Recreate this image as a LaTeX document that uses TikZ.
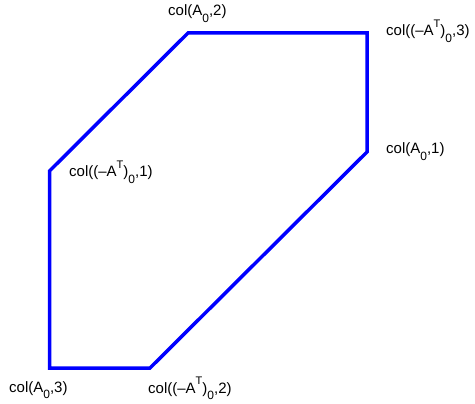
\documentclass[tikz,border=0pt]{standalone}
\usepackage{fontspec}
\setmainfont{Liberation Sans}
\newcommand{\lsub}[1]{\raisebox{-6.5pt}{\fontsize{12}{12}\selectfont #1}}
\newcommand{\lsup}[1]{\raisebox{8.5pt}{\fontsize{11}{12}\selectfont #1}}
\tikzset{
  edge/.style={draw=blue, line width=3.5pt, line join=miter},
  lbl/.style={anchor=base west, inner sep=0pt, font=\fontsize{15}{17}\selectfont}
}
\begin{document}
\begin{tikzpicture}[x=1pt,y=-1pt]
\useasboundingbox (0,0) rectangle (475,404);
\coordinate (p1) at (49.5,171);
\coordinate (p2) at (188,33);
\coordinate (p3) at (367,33);
\coordinate (p4) at (367,152);
\coordinate (p5) at (150,368);
\coordinate (p6) at (49.5,368);
\draw[edge] (p1) -- (p2) -- (p3) -- (p4) -- (p5) -- (p6) -- cycle;
\node[lbl] (l2) at (168,16) {col(A\lsub{0},2)};
\node[lbl] (l3) at (386,36) {col((\textendash A\lsup{T})\lsub{0},3)};
\node[lbl] (l1) at (386,154) {col(A\lsub{0},1)};
\node[lbl] (m1) at (69,177) {col((\textendash A\lsup{T})\lsub{0},1)};
\node[lbl] (l4) at (9,392) {col(A\lsub{0},3)};
\node[lbl] (m2) at (148,393) {col((\textendash A\lsup{T})\lsub{0},2)};
\end{tikzpicture}
\end{document}
